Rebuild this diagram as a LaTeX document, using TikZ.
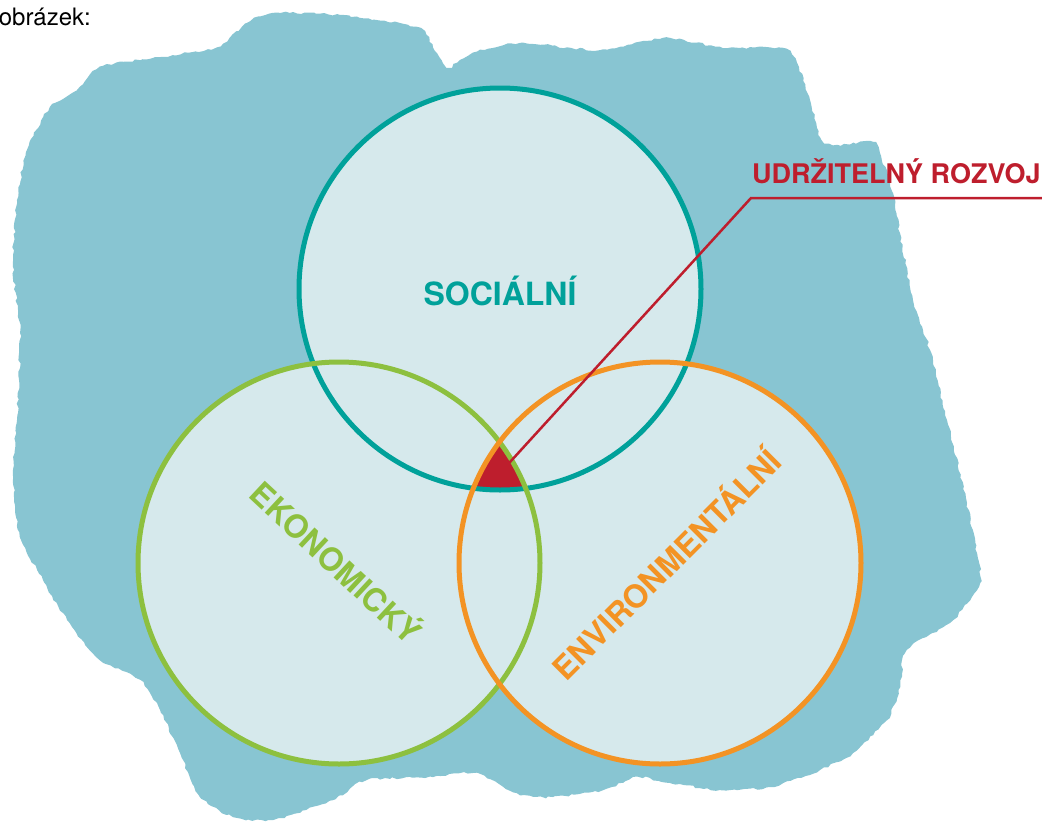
\documentclass[tikz,border=0pt]{standalone}
\usepackage{fontspec}
\setmainfont{TeX Gyre Heros}
\usetikzlibrary{calc}
\usetikzlibrary{decorations.pathmorphing}
\definecolor{blob}{HTML}{88C5D2}
\definecolor{ringfill}{HTML}{D6E9EC}
\definecolor{socc}{HTML}{00A19A}
\definecolor{ekoc}{HTML}{8DC03F}
\definecolor{envc}{HTML}{F39324}
\definecolor{core}{HTML}{BE1E2D}

\begin{document}
\begin{tikzpicture}[x=1pt,y=-1pt,
  ring/.style={circle,minimum size=402pt,inner sep=0pt,fill=ringfill},
  rim/.style={line width=5pt},
  lbl/.style={font=\fontsize{32}{32}\selectfont\bfseries,inner sep=0pt}]
	\useasboundingbox (0,0) rectangle (1042,825);
	\fill[blob,decorate,decoration={random steps,segment length=4pt,amplitude=1.2pt}]
	  plot[smooth cycle,tension=0.4] coordinates {(50,107) (77,90) (100,67) (160,57) (217,47) (247,23) (273,13) (340,15) (417,27) (433,47) (447,67) (473,53) (520,43) (600,50) (663,38) (727,48) (783,48) (797,63) (810,100) (820,137) (833,145) (873,142) (880,153) (893,193) (900,233) (913,300) (930,350) (947,420) (967,503) (977,553) (980,583) (953,620) (907,650) (900,687) (887,720) (853,753) (820,770) (770,787) (720,790) (670,783) (637,777) (603,790) (553,797) (520,795) (477,773) (433,777) (367,780) (333,800) (273,820) (233,817) (200,797) (180,753) (160,710) (140,680) (100,660) (67,620) (43,580) (20,537) (13,470) (17,420) (20,333) (13,267) (17,200) (27,150)};
	\node[font=\fontsize{24}{24}\selectfont,anchor=base east,inner sep=0pt] (caption) at (91,25) {obrázek:};
	\node[ring] (soc) at (500,289) {};
	\node[ring] (eko) at (339,563) {};
	\node[ring] (env) at (660,563) {};
	\begin{scope}
		\clip (soc.center) circle[radius=201pt];
		\clip (eko.center) circle[radius=201pt];
		\fill[core] (env.center) circle[radius=201pt];
	\end{scope}
	\draw[rim,socc] (soc.center) circle[radius=201pt];
	\draw[rim,ekoc] (eko.center) circle[radius=201pt];
	\draw[rim,envc] (env.center) circle[radius=201pt];
	\node[lbl,text=socc] (socl) at (500,291) {SOCIÁLNÍ};
	\node[lbl,text=ekoc,rotate=-43] (ekol) at (338,561) {EKONOMICKÝ};
	\node[lbl,text=envc,rotate=45] (envl) at (665,563) {ENVIRONMENTÁLNÍ};
	\node[font=\fontsize{27}{27}\selectfont\bfseries,text=core,anchor=base west,inner sep=0pt] (udr) at (752,183) {UDRŽITELNÝ ROZVOJ};
	\coordinate (hub) at (500,473);
	\coordinate (knee) at (751,198);
	\coordinate (tail) at (1042,198);
	\draw[core,line width=2.5pt] (hub) -- (knee) -- (tail);
\end{tikzpicture}
\end{document}
